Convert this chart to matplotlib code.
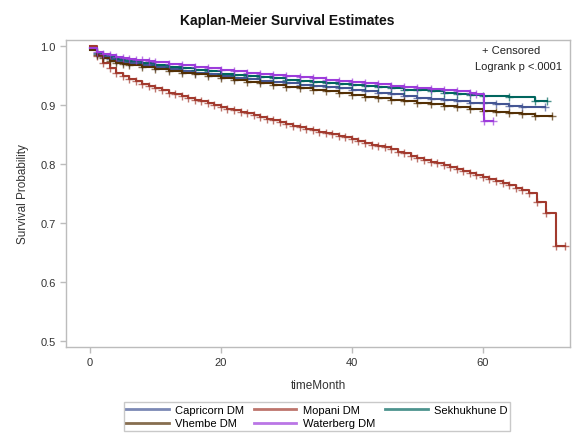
import numpy as np
import matplotlib
matplotlib.use('Agg')
import matplotlib.pyplot as plt
from matplotlib.lines import Line2D

plt.rcParams['font.family'] = ['Liberation Sans', 'DejaVu Sans']

# Kaplan-Meier step estimates (months, survival)
groups = ['Capricorn DM', 'Mopani DM', 'Sekhukhune D', 'Vhembe DM', 'Waterberg DM']
colors = ['#445694', '#A23A2E', '#01665E', '#543005', '#9D3CDB']

cap_t = [0, 1, 2, 3, 4, 5, 6, 8, 10, 12, 14, 16, 18, 20, 22, 24, 26, 28, 30, 32, 34, 36, 38,
         40, 42, 44, 46, 48, 50, 52, 54, 56, 58, 60, 62, 64, 66, 69.5]
cap_s = [0.996, 0.987, 0.982, 0.978, 0.975, 0.973, 0.971, 0.967, 0.964, 0.961, 0.958, 0.955,
         0.952, 0.949, 0.946, 0.944, 0.941, 0.939, 0.937, 0.934, 0.932, 0.930, 0.928, 0.926,
         0.924, 0.921, 0.918, 0.915, 0.912, 0.910, 0.908, 0.906, 0.904, 0.903, 0.901, 0.899,
         0.897, 0.897]

mop_t = [0, 1, 2, 3, 4, 5, 6, 7, 8, 9, 10, 11, 12, 13, 14, 15, 16, 17, 18, 19, 20, 21, 22,
         23, 24, 25, 26, 27, 28, 29, 30, 31, 32, 33, 34, 35, 36, 37, 38, 39, 40, 41, 42, 43,
         44, 45, 46, 47, 48, 49, 50, 51, 52, 53, 54, 55, 56, 57, 58, 59, 60, 61, 62, 63, 64,
         65, 66, 67, 68.2, 69.6, 71.1, 72.5]
mop_s = [1.0, 0.983, 0.971, 0.962, 0.955, 0.949, 0.944, 0.940, 0.936, 0.932, 0.928, 0.925,
         0.921, 0.918, 0.915, 0.912, 0.909, 0.906, 0.903, 0.900, 0.897, 0.894, 0.891, 0.888,
         0.886, 0.883, 0.880, 0.877, 0.874, 0.871, 0.868, 0.865, 0.863, 0.860, 0.857, 0.855,
         0.852, 0.850, 0.847, 0.845, 0.842, 0.839, 0.836, 0.833, 0.831, 0.828, 0.825, 0.821,
         0.818, 0.814, 0.810, 0.807, 0.804, 0.801, 0.798, 0.795, 0.792, 0.788, 0.785, 0.782,
         0.778, 0.775, 0.771, 0.767, 0.764, 0.760, 0.756, 0.750, 0.735, 0.717, 0.661, 0.661]

sek_t = [0, 1, 2, 3, 4, 5, 6, 8, 10, 12, 14, 16, 18, 20, 22, 24, 26, 28, 30, 32, 34, 36, 38,
         40, 42, 44, 46, 48, 50, 52, 54, 56, 58, 60, 64, 68, 69.8]
sek_s = [0.996, 0.988, 0.984, 0.981, 0.978, 0.976, 0.974, 0.971, 0.968, 0.965, 0.962, 0.960,
         0.957, 0.953, 0.951, 0.949, 0.947, 0.945, 0.943, 0.941, 0.939, 0.937, 0.935, 0.934,
         0.932, 0.930, 0.928, 0.926, 0.925, 0.923, 0.921, 0.919, 0.917, 0.915, 0.914, 0.906,
         0.906]

vhe_t = [0, 1, 2, 3, 4, 5, 6, 8, 10, 12, 14, 16, 18, 20, 22, 24, 26, 28, 30, 32, 34, 36, 38,
         40, 42, 44, 46, 48, 50, 52, 54, 56, 58, 60, 62, 64, 66, 68, 70.5]
vhe_s = [0.993, 0.984, 0.979, 0.975, 0.972, 0.969, 0.967, 0.964, 0.961, 0.958, 0.955, 0.952,
         0.949, 0.945, 0.942, 0.939, 0.937, 0.934, 0.931, 0.929, 0.926, 0.923, 0.920, 0.917,
         0.914, 0.911, 0.909, 0.906, 0.904, 0.902, 0.899, 0.896, 0.893, 0.890, 0.888, 0.886,
         0.884, 0.881, 0.881]

wat_t = [0, 1, 2, 3, 4, 5, 6, 7, 8, 9, 10, 12, 14, 16, 18, 20, 22, 24, 26, 28, 30, 32, 34,
         36, 38, 40, 42, 44, 46, 48, 50, 52, 54, 56, 58, 59, 60.2, 61.5]
wat_s = [0.997, 0.990, 0.987, 0.984, 0.982, 0.980, 0.978, 0.977, 0.976, 0.975, 0.973, 0.970,
         0.968, 0.965, 0.962, 0.960, 0.957, 0.955, 0.953, 0.951, 0.949, 0.947, 0.945, 0.943,
         0.941, 0.939, 0.937, 0.935, 0.933, 0.931, 0.929, 0.927, 0.925, 0.923, 0.921, 0.919,
         0.873, 0.873]

curves = [(cap_t, cap_s), (mop_t, mop_s), (sek_t, sek_s), (vhe_t, vhe_s), (wat_t, wat_s)]

fig = plt.figure(figsize=(5.74, 4.39), dpi=100)
ax = fig.add_axes([66 / 574, 1 - 348 / 439, (570 - 66) / 574, (348 - 40.5) / 439])

for (t, s), col, name in zip(curves, colors, groups):
    ax.step(t, s, where='post', color=col, lw=1.5, label=name)
    # censored observations
    ax.plot(t[1:], s[1:], linestyle='', marker='+', ms=6, mew=1.0, color=col, alpha=0.7)

ax.set_xlim(-3.66, 73.3)
ax.set_ylim(0.4898, 1.011)
ax.set_xticks([0, 20, 40, 60])
ax.set_yticks([0.5, 0.6, 0.7, 0.8, 0.9, 1.0])
ax.set_yticklabels(['0.5', '0.6', '0.7', '0.8', '0.9', '1.0'])

for sp in ax.spines.values():
    sp.set_color('#bcbcbc')
    sp.set_linewidth(1.0)
ax.tick_params(direction='out', length=4, width=1, color='#bcbcbc',
               labelsize=8, labelcolor='#333333')

ax.set_xlabel('timeMonth', fontsize=8.5, color='#333333', labelpad=8)
ax.set_ylabel('Survival Probability', fontsize=8.5, color='#333333', labelpad=8)
fig.text(0.5, 1 - 21 / 439, 'Kaplan-Meier Survival Estimates', ha='center', va='center',
         fontsize=10, fontweight='bold', color='#111111')

ax.text(0.94, 0.965, '+ Censored', transform=ax.transAxes, ha='right', va='center',
        fontsize=8, color='#222222')
ax.text(0.985, 0.913, 'Logrank p <.0001', transform=ax.transAxes, ha='right', va='center',
        fontsize=8, color='#222222')

# legend, filled row-wise
order = [0, 3, 1, 4, 2]
handles = [Line2D([], [], color=colors[i], lw=2, alpha=0.7) for i in order]
labels = [groups[i] for i in order]
leg = fig.legend(handles, labels, ncol=3, loc='center', bbox_to_anchor=(317 / 574, 1 - 417.5 / 439),
                 fontsize=8, frameon=True, fancybox=False, handlelength=3.8,
                 columnspacing=0.9, handletextpad=0.6, labelspacing=0.35, borderpad=0.25)
leg.get_frame().set_edgecolor('#bcbcbc')
leg.get_frame().set_linewidth(1.0)

fig.savefig('out.png', dpi=100)
